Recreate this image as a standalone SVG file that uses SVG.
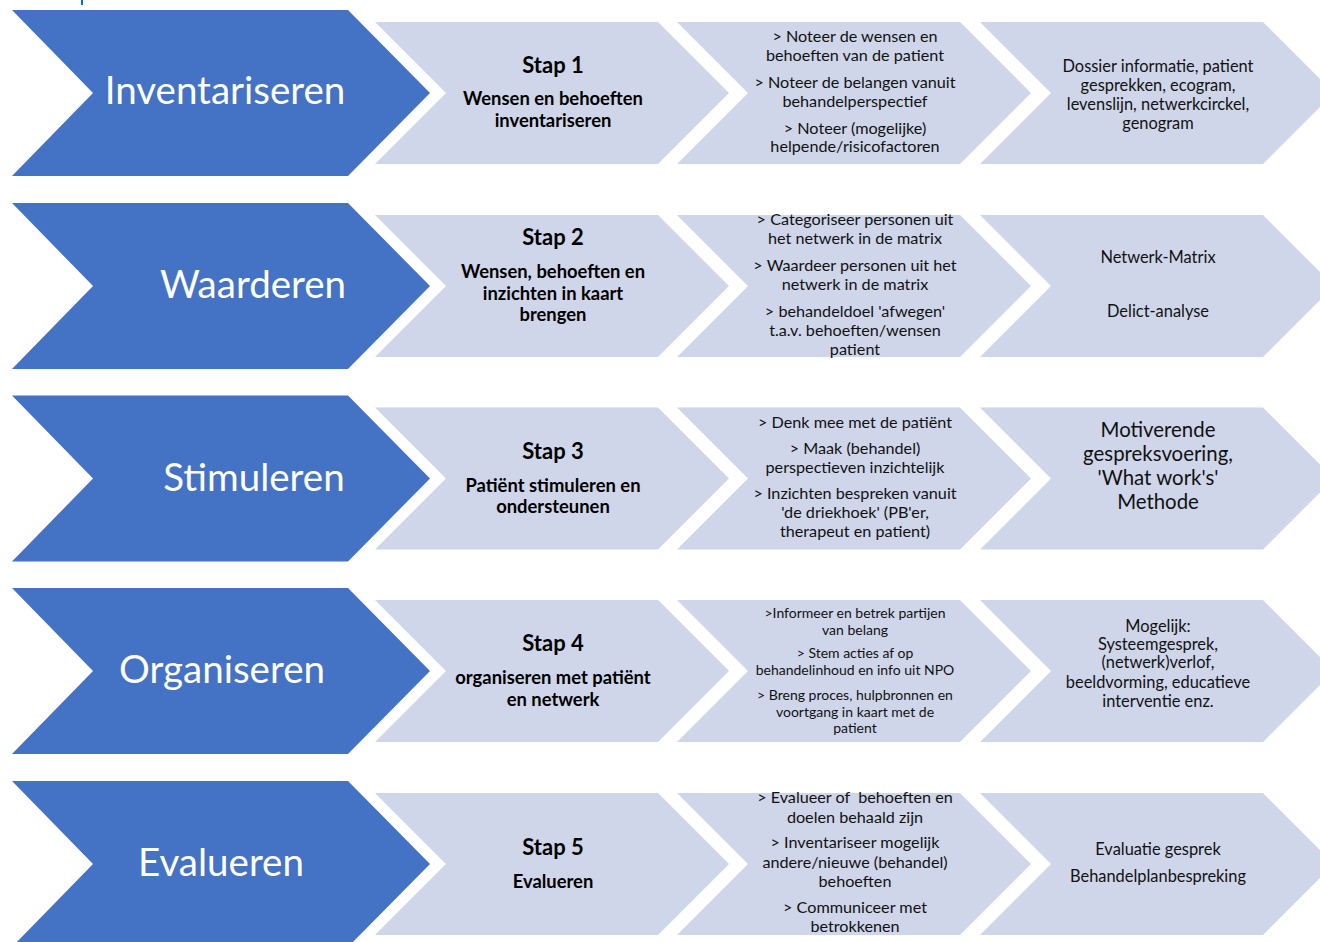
<svg xmlns="http://www.w3.org/2000/svg" width="1320" height="942" viewBox="0 0 1320 942">
<defs>
<style>
.bg{fill:#ffffff}
.blue{fill:#4472C4}
.light{fill:#CFD6EA}
.lbl{font-family:Lato,"Liberation Sans",sans-serif;fill:#ffffff;font-size:38.5px;text-anchor:middle}
.stap{font-family:Lato,"Liberation Sans",sans-serif;fill:#000000;font-size:22px;font-weight:bold;text-anchor:middle}
.sub{font-family:Lato,"Liberation Sans",sans-serif;fill:#000000;font-size:18.4px;font-weight:bold;text-anchor:middle}
.t3{font-family:Lato,"Liberation Sans",sans-serif;fill:#111111;font-size:16.2px;text-anchor:middle;white-space:pre}
.t3s{font-family:Lato,"Liberation Sans",sans-serif;fill:#111111;font-size:14px;text-anchor:middle}
.t4{font-family:Lato,"Liberation Sans",sans-serif;fill:#111111;font-size:16.4px;text-anchor:middle}
.t4l{font-family:Lato,"Liberation Sans",sans-serif;fill:#111111;font-size:20.4px;text-anchor:middle}
</style>
<path id="bchev" d="M12 0 H348 L430 83 L348 166 H12 L93 83 Z"/>
<path id="lchev" d="M0 12 H283 L354 83 L283 154 H0 L71 83 Z"/>
</defs>
<rect class="bg" x="0" y="0" width="1320" height="942"/>
<rect x="81" y="0" width="2" height="5" fill="#0070C0"/>

<g id="row1" transform="translate(0,10)">
  <g id="inventariseren"><use href="#bchev" class="blue"/><text class="lbl" x="225" y="94">Inventariseren</text></g>
  <g id="stap1"><use href="#lchev" class="light" x="375"/>
    <text class="stap" x="553" y="63">Stap 1</text>
    <text class="sub" x="553" y="95">Wensen en behoeften</text>
    <text class="sub" x="553" y="117">inventariseren</text></g>
  <g id="acties1"><use href="#lchev" class="light" x="677"/>
    <text class="t3" x="855" y="32">&gt; Noteer de wensen en</text>
    <text class="t3" x="855" y="51">behoeften van de patient</text>
    <text class="t3" x="855" y="78">&gt; Noteer de belangen vanuit</text>
    <text class="t3" x="855" y="97">behandelperspectief</text>
    <text class="t3" x="855" y="124">&gt; Noteer (mogelijke)</text>
    <text class="t3" x="855" y="142">helpende/risicofactoren</text></g>
  <g id="middelen1"><use href="#lchev" class="light" x="980"/>
    <text class="t4" x="1158" y="62">Dossier informatie, patient</text>
    <text class="t4" x="1158" y="81">gesprekken, ecogram,</text>
    <text class="t4" x="1158" y="100">levenslijn, netwerkcirckel,</text>
    <text class="t4" x="1158" y="119">genogram</text></g>
</g>

<g id="row2" transform="translate(0,203)">
  <g id="waarderen"><use href="#bchev" class="blue"/><text class="lbl" x="253" y="95">Waarderen</text></g>
  <g id="stap2"><use href="#lchev" class="light" x="375"/>
    <text class="stap" x="553" y="42">Stap 2</text>
    <text class="sub" x="553" y="75">Wensen, behoeften en</text>
    <text class="sub" x="553" y="97">inzichten in kaart</text>
    <text class="sub" x="553" y="118">brengen</text></g>
  <g id="acties2"><use href="#lchev" class="light" x="677"/>
    <text class="t3" x="855" y="22">&gt; Categoriseer personen uit</text>
    <text class="t3" x="855" y="41">het netwerk in de matrix</text>
    <text class="t3" x="855" y="68">&gt; Waardeer personen uit het</text>
    <text class="t3" x="855" y="87">netwerk in de matrix</text>
    <text class="t3" x="855" y="114">&gt; behandeldoel 'afwegen'</text>
    <text class="t3" x="855" y="133">t.a.v. behoeften/wensen</text>
    <text class="t3" x="855" y="152">patient</text></g>
  <g id="middelen2"><use href="#lchev" class="light" x="980"/>
    <text class="t4" x="1158" y="60">Netwerk-Matrix</text>
    <text class="t4" x="1158" y="114">Delict-analyse</text></g>
</g>

<g id="row3" transform="translate(0,395.5)">
  <g id="stimuleren"><use href="#bchev" class="blue"/><text class="lbl" x="254" y="95">Stimuleren</text></g>
  <g id="stap3"><use href="#lchev" class="light" x="375"/>
    <text class="stap" x="553" y="63">Stap 3</text>
    <text class="sub" x="553" y="96">Patiënt stimuleren en</text>
    <text class="sub" x="553" y="117">ondersteunen</text></g>
  <g id="acties3"><use href="#lchev" class="light" x="677"/>
    <text class="t3" x="855" y="32">&gt; Denk mee met de patiënt</text>
    <text class="t3" x="855" y="58">&gt; Maak (behandel)</text>
    <text class="t3" x="855" y="77">perspectieven inzichtelijk</text>
    <text class="t3" x="855" y="103">&gt; Inzichten bespreken vanuit</text>
    <text class="t3" x="855" y="122">'de driekhoek' (PB'er,</text>
    <text class="t3" x="855" y="141">therapeut en patient)</text></g>
  <g id="middelen3"><use href="#lchev" class="light" x="980"/>
    <text class="t4l" x="1158" y="41">Motiverende</text>
    <text class="t4l" x="1158" y="65">gespreksvoering,</text>
    <text class="t4l" x="1158" y="89">'What work's'</text>
    <text class="t4l" x="1158" y="113">Methode</text></g>
</g>

<g id="row4" transform="translate(0,588)">
  <g id="organiseren"><use href="#bchev" class="blue"/><text class="lbl" x="222" y="95">Organiseren</text></g>
  <g id="stap4"><use href="#lchev" class="light" x="375"/>
    <text class="stap" x="553" y="63">Stap 4</text>
    <text class="sub" x="553" y="96">organiseren met patiënt</text>
    <text class="sub" x="553" y="118">en netwerk</text></g>
  <g id="acties4"><use href="#lchev" class="light" x="677"/>
    <text class="t3s" x="855" y="30">&gt;Informeer en betrek partijen</text>
    <text class="t3s" x="855" y="47">van belang</text>
    <text class="t3s" x="855" y="70">&gt; Stem acties af op</text>
    <text class="t3s" x="855" y="87">behandelinhoud en info uit NPO</text>
    <text class="t3s" x="855" y="112">&gt; Breng proces, hulpbronnen en</text>
    <text class="t3s" x="855" y="129">voortgang in kaart met de</text>
    <text class="t3s" x="855" y="145">patient</text></g>
  <g id="middelen4"><use href="#lchev" class="light" x="980"/>
    <text class="t4" x="1158" y="44">Mogelijk:</text>
    <text class="t4" x="1158" y="62">Systeemgesprek,</text>
    <text class="t4" x="1158" y="80">(netwerk)verlof,</text>
    <text class="t4" x="1158" y="100">beeldvorming, educatieve</text>
    <text class="t4" x="1158" y="119">interventie enz.</text></g>
</g>

<g id="row5" transform="translate(0,781)">
  <g id="evalueren"><use href="#bchev" class="blue"/><text class="lbl" x="221" y="95">Evalueren</text></g>
  <g id="stap5"><use href="#lchev" class="light" x="375"/>
    <text class="stap" x="553" y="74">Stap 5</text>
    <text class="sub" x="553" y="107">Evalueren</text></g>
  <g id="acties5"><use href="#lchev" class="light" x="677"/>
    <text class="t3" x="855" y="22">&gt; Evalueer of  behoeften en</text>
    <text class="t3" x="855" y="42">doelen behaald zijn</text>
    <text class="t3" x="855" y="67">&gt; Inventariseer mogelijk</text>
    <text class="t3" x="855" y="87">andere/nieuwe (behandel)</text>
    <text class="t3" x="855" y="106">behoeften</text>
    <text class="t3" x="855" y="132">&gt; Communiceer met</text>
    <text class="t3" x="855" y="151">betrokkenen</text></g>
  <g id="middelen5"><use href="#lchev" class="light" x="980"/>
    <text class="t4" x="1158" y="74">Evaluatie gesprek</text>
    <text class="t4" x="1158" y="101">Behandelplanbespreking</text></g>
</g>
<g id="connectors"/>
</svg>
